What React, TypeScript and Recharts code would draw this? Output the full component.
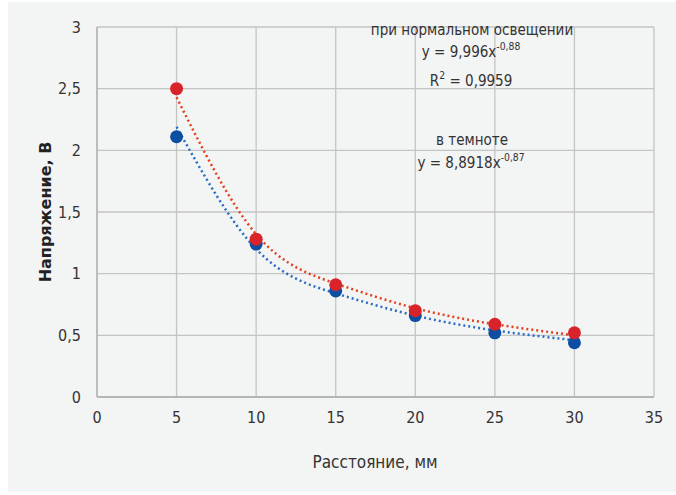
import React from 'react';
import { ComposedChart, Line, Scatter, XAxis, YAxis, CartesianGrid } from 'recharts';

// measured points
const distances = [5, 10, 15, 20, 25, 30];
const normalLight = [2.5, 1.28, 0.91, 0.7, 0.59, 0.52];
const darkness = [2.11, 1.24, 0.86, 0.66, 0.52, 0.44];

// trend curves at the same distances
const normalTrend = [2.43, 1.32, 0.92, 0.72, 0.59, 0.5];
const darkTrend = [2.19, 1.2, 0.84, 0.66, 0.54, 0.46];

const xTicks = [0, 5, 10, 15, 20, 25, 30, 35];
const yTicks = [0, 0.5, 1, 1.5, 2, 2.5, 3];

const toRows = (ys: number[]) => distances.map((x, i) => ({ x, y: ys[i] }));

const FONT = '"DejaVu Sans Condensed", "Liberation Sans Narrow", sans-serif';
const RED = '#d8232a';
const BLUE = '#0c4ea2';

const fmt = (v: number) => String(v).replace('.', ',');

const dot = (color: string) => (props: any) => (
  <circle cx={props.cx} cy={props.cy} r={6.5} fill={color} />
);

export default function App() {
  return (
    <div style={{ position: 'absolute', left: 0, top: 0, width: 676, height: 495, background: '#fff' }}>
      <div style={{ position: 'absolute', left: 8, top: 2, width: 668, height: 490, background: '#f3f4f4' }} />
      <div style={{ position: 'absolute', left: 0, top: 0 }}>
        <ComposedChart width={676} height={495} margin={{ top: 27, right: 22, left: 0, bottom: 0 }}>
          <CartesianGrid stroke="#c4c4c4" strokeWidth={1.3} />
          <XAxis
            type="number"
            dataKey="x"
            domain={[0, 35]}
            ticks={xTicks}
            height={98}
            tickLine={false}
            tickSize={6}
            tickMargin={9}
            stroke="#b5b5b5"
            strokeWidth={2}
            tick={{ fill: '#333', fontSize: 16, fontFamily: FONT }}
          />
          <YAxis
            type="number"
            dataKey="y"
            domain={[0, 3]}
            ticks={yTicks}
            width={97}
            tickLine={false}
            tickSize={6}
            tickMargin={10}
            stroke="#b5b5b5"
            strokeWidth={1.5}
            tickFormatter={fmt}
            tick={{ fill: '#333', fontSize: 16, fontFamily: FONT }}
          />
          <Line data={toRows(normalTrend)} dataKey="y" type="natural" stroke="#e5401e" strokeWidth={2.5} strokeDasharray="2 3" dot={false} isAnimationActive={false} />
          <Line data={toRows(darkTrend)} dataKey="y" type="natural" stroke="#2a6cc4" strokeWidth={2.5} strokeDasharray="2 3" dot={false} isAnimationActive={false} />
          <Scatter data={toRows(darkness)} dataKey="y" fill={BLUE} shape={dot(BLUE)} isAnimationActive={false} />
          <Scatter data={toRows(normalLight)} dataKey="y" fill={RED} shape={dot(RED)} isAnimationActive={false} />
        </ComposedChart>
      </div>
      <svg width={676} height={495} style={{ position: 'absolute', left: 0, top: 0, pointerEvents: 'none' }}>
        <g fontFamily={FONT} fontSize={16} fill="#333" textAnchor="middle" transform="translate(472,0) scale(0.94,1) translate(-472,0)">
          <text x={472} y={35}>при нормальном освещении</text>
          <text x={471} y={57}>
            y = 9,996x<tspan fontSize={11} dy={-7}>-0,88</tspan>
          </text>
          <text x={471} y={86}>
            R<tspan fontSize={11} dy={-7}>2</tspan>
            <tspan dy={7}> = 0,9959</tspan>
          </text>
          <text x={472} y={145}>в темноте</text>
          <text x={471} y={168}>
            y = 8,8918x<tspan fontSize={11} dy={-7}>-0,87</tspan>
          </text>
        </g>
        <text x={375} y={468} textAnchor="middle" fontFamily={FONT} fontSize={17} fill="#333">Расстояние, мм</text>
        <text x={51} y={212} textAnchor="middle" transform="rotate(-90 51 212)" fontFamily='"DejaVu Sans", sans-serif' fontSize={16} fontWeight="bold" fill="#222">Напряжение, В</text>
      </svg>
    </div>
  );
}
